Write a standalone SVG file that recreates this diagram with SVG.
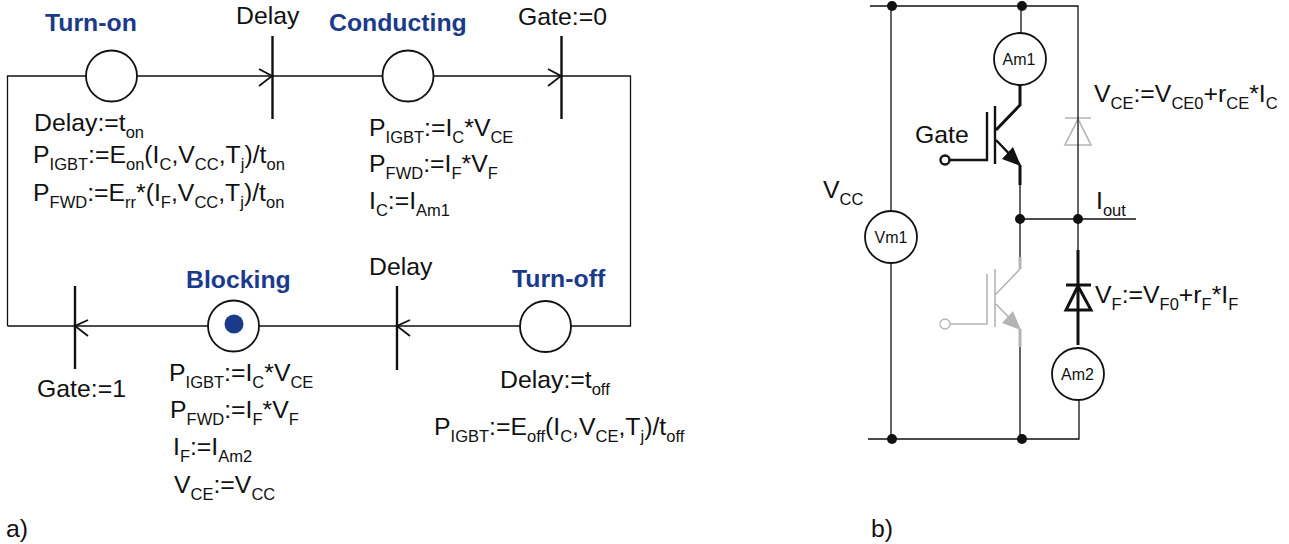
<svg xmlns="http://www.w3.org/2000/svg" width="1289" height="544" viewBox="0 0 1289 544">
<style>
text{font-family:"Liberation Sans",Arial,sans-serif;font-size:24.8px;fill:#111}
.s{font-size:16.5px}
.t{font-weight:bold;fill:#1a3a8c}
.m{font-size:16px;text-anchor:middle}
.l{fill:none;stroke:#111;stroke-width:1.3}
.b{fill:none;stroke:#111;stroke-width:2.4}
.k{fill:none;stroke:#111;stroke-width:3}
.g{fill:none;stroke:#b4b4b4;stroke-width:1.6}
.gk{fill:none;stroke:#b4b4b4;stroke-width:3}
.c{fill:#fff;stroke:#111;stroke-width:1.8}
.d{fill:#111}
</style>
<rect width="1289" height="544" fill="#fff"/>
<g id="connectors">
<path class="l" d="M7.5 326V76H630.5V326H7.5"/>
<path class="b" d="M272.5 36V119M561.5 36V119M75 286V369M397 286V370"/>
<path class="l" style="stroke-width:1.8" d="M259 69L272 76L259 86M548 69L561 76L548 86M88 320L75 326L88 336M410 320L397 326L410 336"/>
<path class="g" d="M1065 118H1091M1078 119L1065 145H1091Z"/>
<path class="l" d="M870 6H1078V219M868 439H1079V374M891 6V439M1021 6V33M1020 185V257M1020 219H1136M1078 219V250M1020 347V439"/>
<path class="k" d="M1020 85V105L996 130M1020 165V185M1078 250V345"/>
<path class="b" d="M995 106V164M987 112V160H950M996 140L1020 165"/>
<path class="d" d="M1021 166L1002 159L1013 147Z"/>
<path class="k" d="M1066 285H1091M1078 286L1066 310H1091Z"/>
<path class="g" d="M1020 269L995 295M995 269V327M987 274V324H950M996 304L1020 329"/>
<path class="gk" d="M1020 257V269M1020 329V347"/>
<path d="M1021 330L1002 323L1013 311Z" fill="#b4b4b4"/>
</g>
<g id="junctions">
<circle class="d" cx="892" cy="6" r="5"/><circle class="d" cx="1022" cy="6" r="5"/>
<circle class="d" cx="1020" cy="219" r="5"/><circle class="d" cx="1078" cy="219" r="5"/>
<circle class="d" cx="892" cy="439" r="5"/><circle class="d" cx="1022" cy="439" r="5"/>
</g>
<g id="turn-on"><circle class="c" cx="111.5" cy="76" r="25.5"/><text class="t" x="45" y="31">Turn-on</text></g>
<g id="conducting"><circle class="c" cx="408" cy="76" r="25.5"/><text class="t" x="329" y="31">Conducting</text></g>
<g id="blocking"><circle class="c" cx="233.5" cy="326" r="25.5"/><circle cx="234" cy="324" r="9.5" fill="#1a3a8c"/><text class="t" x="186" y="288">Blocking</text></g>
<g id="turn-off"><circle class="c" cx="545.5" cy="326.5" r="25.5"/><text class="t" x="512" y="287">Turn-off</text></g>
<g id="am1"><circle class="c" cx="1020" cy="59" r="26"/><text class="m" x="1019" y="65">Am1</text></g>
<g id="vm1"><circle class="c" cx="891" cy="237" r="26"/><text class="m" x="891" y="243">Vm1</text></g>
<g id="am2"><circle class="c" cx="1078" cy="374" r="26"/><text class="m" x="1077.5" y="380">Am2</text></g>
<g id="gate-terminal"><circle cx="945" cy="160" r="4.5" fill="#fff" stroke="#111" stroke-width="2.4"/><circle cx="945" cy="324" r="5" fill="#fff" stroke="#b4b4b4" stroke-width="1.3"/></g>
<g id="labels">
<text x="236" y="24">Delay</text>
<text x="518" y="25">Gate:=0</text>
<text x="37" y="397">Gate:=1</text>
<text x="369" y="275">Delay</text>
<text x="34" y="131">Delay:=t<tspan class="s" dy="6.5">on</tspan></text>
<text x="33" y="163">P<tspan class="s" dy="6.5">IGBT</tspan><tspan dy="-6.5">:=E</tspan><tspan class="s" dy="6.5">on</tspan><tspan dy="-6.5">(I</tspan><tspan class="s" dy="6.5">C</tspan><tspan dy="-6.5">,V</tspan><tspan class="s" dy="6.5">CC</tspan><tspan dy="-6.5">,T</tspan><tspan class="s" dy="6.5">j</tspan><tspan dy="-6.5">)/t</tspan><tspan class="s" dy="6.5">on</tspan></text>
<text x="33" y="201">P<tspan class="s" dy="6.5">FWD</tspan><tspan dy="-6.5">:=E</tspan><tspan class="s" dy="6.5">rr</tspan><tspan dy="-6.5">*(I</tspan><tspan class="s" dy="6.5">F</tspan><tspan dy="-6.5">,V</tspan><tspan class="s" dy="6.5">CC</tspan><tspan dy="-6.5">,T</tspan><tspan class="s" dy="6.5">j</tspan><tspan dy="-6.5">)/t</tspan><tspan class="s" dy="6.5">on</tspan></text>
<text x="369" y="136">P<tspan class="s" dy="6.5">IGBT</tspan><tspan dy="-6.5">:=I</tspan><tspan class="s" dy="6.5">C</tspan><tspan dy="-6.5">*V</tspan><tspan class="s" dy="6.5">CE</tspan></text>
<text x="369" y="172">P<tspan class="s" dy="6.5">FWD</tspan><tspan dy="-6.5">:=I</tspan><tspan class="s" dy="6.5">F</tspan><tspan dy="-6.5">*V</tspan><tspan class="s" dy="6.5">F</tspan></text>
<text x="369" y="209">I<tspan class="s" dy="6.5">C</tspan><tspan dy="-6.5">:=I</tspan><tspan class="s" dy="6.5">Am1</tspan></text>
<text x="169" y="381">P<tspan class="s" dy="6.5">IGBT</tspan><tspan dy="-6.5">:=I</tspan><tspan class="s" dy="6.5">C</tspan><tspan dy="-6.5">*V</tspan><tspan class="s" dy="6.5">CE</tspan></text>
<text x="170" y="418">P<tspan class="s" dy="6.5">FWD</tspan><tspan dy="-6.5">:=I</tspan><tspan class="s" dy="6.5">F</tspan><tspan dy="-6.5">*V</tspan><tspan class="s" dy="6.5">F</tspan></text>
<text x="173" y="455">I<tspan class="s" dy="6.5">F</tspan><tspan dy="-6.5">:=I</tspan><tspan class="s" dy="6.5">Am2</tspan></text>
<text x="174" y="493">V<tspan class="s" dy="6.5">CE</tspan><tspan dy="-6.5">:=V</tspan><tspan class="s" dy="6.5">CC</tspan></text>
<text x="500" y="388">Delay:=t<tspan class="s" dy="6.5">off</tspan></text>
<text x="434" y="435">P<tspan class="s" dy="6.5">IGBT</tspan><tspan dy="-6.5">:=E</tspan><tspan class="s" dy="6.5">off</tspan><tspan dy="-6.5">(I</tspan><tspan class="s" dy="6.5">C</tspan><tspan dy="-6.5">,V</tspan><tspan class="s" dy="6.5">CE</tspan><tspan dy="-6.5">,T</tspan><tspan class="s" dy="6.5">j</tspan><tspan dy="-6.5">)/t</tspan><tspan class="s" dy="6.5">off</tspan></text>
<text x="6" y="537">a)</text>
<text x="871" y="537">b)</text>
<text x="915" y="143">Gate</text>
<text x="823" y="198">V<tspan class="s" dy="6.5">CC</tspan></text>
<text x="1094" y="102">V<tspan class="s" dy="6.5">CE</tspan><tspan dy="-6.5">:=V</tspan><tspan class="s" dy="6.5">CE0</tspan><tspan dy="-6.5">+r</tspan><tspan class="s" dy="6.5">CE</tspan><tspan dy="-6.5">*I</tspan><tspan class="s" dy="6.5">C</tspan></text>
<text x="1096" y="209">I<tspan class="s" dy="6.5">out</tspan></text>
<text x="1095" y="303">V<tspan class="s" dy="6.5">F</tspan><tspan dy="-6.5">:=V</tspan><tspan class="s" dy="6.5">F0</tspan><tspan dy="-6.5">+r</tspan><tspan class="s" dy="6.5">F</tspan><tspan dy="-6.5">*I</tspan><tspan class="s" dy="6.5">F</tspan></text>
</g>
</svg>
